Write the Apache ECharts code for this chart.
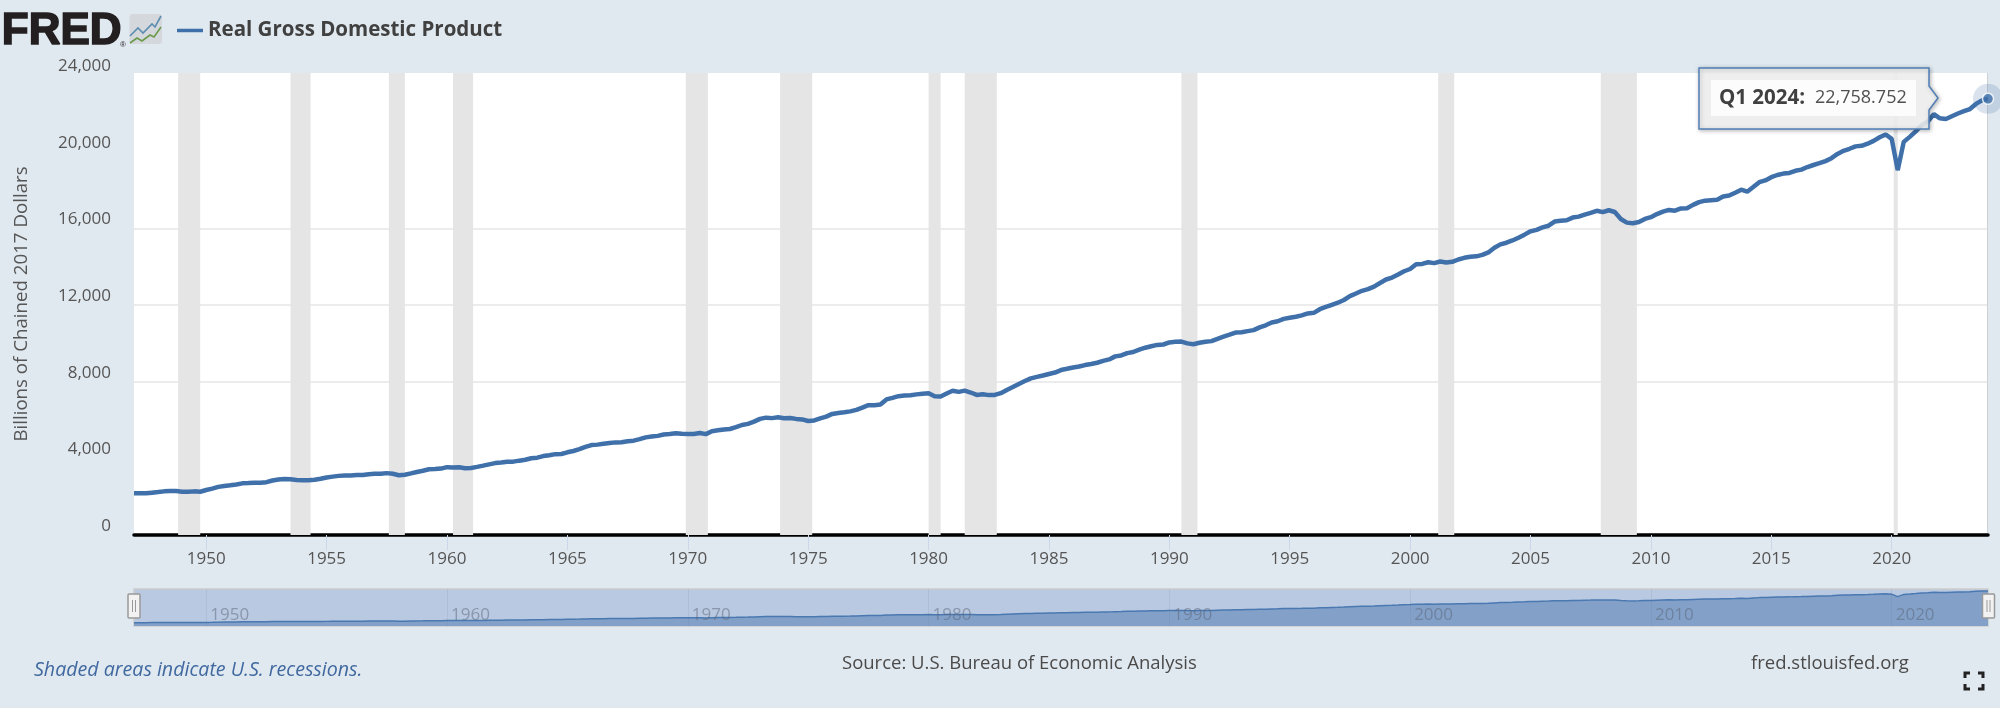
<!DOCTYPE html>
<html><head><meta charset="utf-8">
<style>html,body{margin:0;padding:0;background:#e1e9f0}#c{width:2000px;height:708px}</style>
<script src="https://cdn.jsdelivr.net/npm/echarts@6/dist/echarts.min.js"></script>
</head><body><div id="c"></div>
<script>
const firstYear = 1947;
const gdpValues = [
2182.7,2176.9,2172.4,2206.5, 2239.7,2276.7,2289.8,2292.4, 2260.8,2253.1,2276.3,2257.4,
2346.1,2417.7,2511.7,2559.2, 2594.0,2638.0,2693.8,2706.7, 2723.6,2731.1,2754.8,2843.9,
2896,2919,2906,2869, 2859,2856,2880,2936, 3000,3045,3085,3110,
3109,3129,3134,3170, 3191,3193,3228,3198, 3120,3141,3213,3289,
3352,3428,3438,3466, 3539,3517,3530,3488, 3500,3553,3618,3686,
3752,3786,3821,3828, 3879,3926,4006,4036, 4118,4163,4219,4228,
4314,4384,4478,4597, 4692,4715,4757,4795, 4832,4841,4888,4923,
5003,5094,5139,5172, 5242,5265,5306,5283, 5273,5272,5321,5264,
5414,5462,5508,5530, 5624,5739,5799,5915, 6058,6123,6098,6141,
6092,6103,6058,6031, 5946,5978,6086,6174, 6317,6366,6404,6451,
6527,6650,6772,6772, 6807,7073,7157,7243, 7275,7290,7337,7375,
7392,7239,7226,7379, 7522,7467,7532,7433, 7308,7348,7299,7307,
7400,7568,7720,7880, 8034,8173,8252,8320, 8400,8475,8605,8670,
8737,8790,8866,8923, 8986,9083,9162,9319, 9367,9490,9546,9673,
9771,9846,9919,9939, 10047,10083,10090,9998, 9952,10029,10080,10115,
10236,10347,10450,10559, 10577,10638,10689,10834, 10939,11087,11153,11276,
11337,11390,11460,11560, 11590,11780,11900,12010, 12120,12260,12460,12600,
12740,12830,12960,13150, 13330,13430,13590,13760,
13878,14130,14145,14230, 14184,14271,14215,14254, 14373,14461,14520,14537,
14614,14744,14989,15163, 15249,15367,15512,15671, 15844,15922,16048,16136,
16353,16396,16420,16561, 16611,16713,16809,16915, 16843,16943,16854,16485,
16298,16269,16326,16491, 16582,16743,16872,16960, 16920,17036,17049,17223,
17368,17445,17469,17490, 17662,17710,17860,18016, 17912,18156,18406,18500,
18667,18783,18857,18892, 19001,19063,19197,19304, 19398,19507,19661,19883,
20044,20150,20276,20305, 20416,20563,20750,20898, 20666,19034,20511,20771,
21058,21389,21571,21961, 21739,21708,21851,21990, 22112,22225,22491,22679,
22758.752
];
const recessionStart = ['1948-11','1953-07','1957-08','1960-04','1969-12','1973-11','1980-01','1981-07','1990-07','2001-03','2007-12','2020-02'];
const recessionEnd   = ['1949-10','1954-05','1958-04','1961-02','1970-11','1975-03','1980-07','1982-11','1991-03','2001-11','2009-06','2020-04'];
const yearTicks = [1950,1955,1960,1965,1970,1975,1980,1985,1990,1995,2000,2005,2010,2015,2020];
const navYearTicks = [1950,1960,1970,1980,1990,2000,2010,2020];
const yTickLabels = [0,4000,8000,12000,16000,20000,24000];
const yGridLines = [4000,8000,12000,16000,20000];
const yTop = 24104;
const seriesName = 'Real Gross Domestic Product';
const yAxisTitle = 'Billions of Chained 2017 Dollars';

const um = s => +s.slice(0,4) + (+s.slice(5,7)-1)/12;
const points = gdpValues.map((v,i)=>[firstYear+i/4,v]);
const last = points[points.length-1];
const FONT = '"Open Sans","Noto Sans",sans-serif';
const BLUE = '#3f70aa';
const fmtYear = v => String(v);

const chart = echarts.init(document.getElementById('c'),null,{renderer:'canvas'});
chart.setOption({
  animation:false, backgroundColor:'#e1e9f0',
  legend:{left:172,top:15,icon:'rect',itemWidth:26,itemHeight:3.5,itemGap:9,data:[seriesName],
    textStyle:{fontFamily:FONT,fontSize:20.5,fontWeight:700,color:'#404040'}},
  grid:[
    {left:134,top:73,width:1854,height:462,show:true,backgroundColor:'#fff',borderWidth:0},
    {left:134,top:589,width:1854,height:37,show:true,backgroundColor:'#b9c9e1',borderWidth:1.5,borderColor:'#cccccc'}
  ],
  xAxis:[
    {type:'value',gridIndex:0,min:firstYear,max:last[0],splitLine:{show:false},
     axisLine:{show:true,onZero:false,lineStyle:{color:'#000',width:3.5}},
     axisTick:{show:true,length:15,customValues:yearTicks,lineStyle:{color:'#ccd6eb',width:1}},
     axisLabel:{customValues:yearTicks,formatter:fmtYear,fontFamily:FONT,fontSize:17,color:'#555',margin:16}},
    {type:'value',gridIndex:1,min:firstYear,max:last[0],z:10,
     axisLine:{show:false},axisTick:{show:false,customValues:navYearTicks},
     splitLine:{show:true,lineStyle:{color:'rgba(90,100,120,0.1)',width:1}},
     axisLabel:{inside:true,customValues:navYearTicks,formatter:fmtYear,align:'left',fontFamily:FONT,fontSize:17,color:'rgba(90,100,120,0.5)',margin:2,padding:[0,0,0,4]}}
  ],
  yAxis:[
    {type:'value',gridIndex:0,min:0,max:yTop,
     name:yAxisTitle,nameLocation:'middle',nameGap:103,nameRotate:90,
     nameTextStyle:{fontFamily:FONT,fontSize:18.7,color:'#555'},
     axisLine:{show:false},axisTick:{show:false,customValues:yGridLines},
     splitLine:{show:true,showMinLine:false,showMaxLine:false,lineStyle:{color:'#e6e6e6',width:1.5}},
     axisLabel:{customValues:yTickLabels,verticalAlign:'bottom',margin:23,fontFamily:FONT,fontSize:17,color:'#555',lineHeight:18,
       formatter:v=>v.toLocaleString('en-US')}},
    {type:'value',gridIndex:1,min:0,max:24000,show:false}
  ],
  series:[
    {name:'Recessions',type:'line',xAxisIndex:0,yAxisIndex:0,data:[],z:1,silent:true,
     markArea:{silent:true,itemStyle:{color:'#e5e5e5'},
       data:recessionStart.map((s,i)=>[{xAxis:um(s)},{xAxis:um(recessionEnd[i])}])}},
    {name:seriesName,type:'line',xAxisIndex:0,yAxisIndex:0,data:points,showSymbol:false,z:3,
     clip:false,lineStyle:{color:BLUE,width:4.5},itemStyle:{color:BLUE}},
    {name:'halo',type:'scatter',xAxisIndex:0,yAxisIndex:0,data:[last],symbolSize:30,z:4,clip:false,silent:true,
     itemStyle:{color:'rgba(69,114,167,0.25)'}},
    {name:'current',type:'scatter',xAxisIndex:0,yAxisIndex:0,data:[last],symbolSize:11,z:5,clip:false,silent:true,
     itemStyle:{color:BLUE,borderColor:'#fff',borderWidth:1.5}},
    {name:'Navigator',type:'line',xAxisIndex:1,yAxisIndex:1,data:points,showSymbol:false,z:3,silent:true,
     lineStyle:{color:'#4a78b0',width:1.5},areaStyle:{color:'#83a1c8',opacity:1}}
  ],
  graphic:[
    {type:'text',left:1,top:9,z:100,style:{text:'FRED',font:'bold 44px "Liberation Sans"',fill:'#231f20',stroke:'#231f20',lineWidth:1.6}},
    {type:'text',left:120,top:41,z:100,style:{text:'®',font:'8px "Liberation Sans"',fill:'#231f20'}},
    {type:'rect',z:100,shape:{x:129.5,y:14,width:32.5,height:30,r:3},style:{fill:'#d4d8dc'}},
    {type:'polyline',z:101,shape:{points:[[130,36],[138,28],[143,33],[152,24],[155,27],[161,16]]},style:{stroke:'#5b8db0',lineWidth:1.6,fill:null}},
    {type:'polyline',z:101,shape:{points:[[130,43],[137,38],[142,41],[150,35],[154,37],[161,27]]},style:{stroke:'#6a9a4a',lineWidth:1.6,fill:null}},
    {type:'line',z:2,shape:{x1:1987.5,y1:73,x2:1987.5,y2:533},style:{stroke:'#d0d0d0',lineWidth:1}},
    {type:'polygon',z:100,shape:{points:[[1699,68],[1929,68],[1929,86],[1938,98],[1929,110],[1929,129],[1699,129]]},
     style:{fill:'rgba(247,247,247,0.85)',stroke:'#4f7fb5',lineWidth:1.5,shadowBlur:4,shadowOffsetX:1,shadowOffsetY:1,shadowColor:'rgba(0,0,0,0.3)'}},
    {type:'rect',z:101,shape:{x:1711,y:80,width:205,height:36},style:{fill:'#fcfcfc'}},
    {type:'text',z:102,x:1719,y:98,style:{text:'Q1 2024:',font:'bold 20.5px '+FONT,fill:'#404040',verticalAlign:'middle'}},
    {type:'text',z:102,x:1815,y:98,style:{text:'22,758.752',font:'18px '+FONT,fill:'#505050',verticalAlign:'middle'}},
    {type:'rect',z:100,shape:{x:128,y:594,width:12,height:24,r:1},style:{fill:'#f2f2f2',stroke:'#999',lineWidth:1.5}},
    {type:'line',z:101,shape:{x1:132.5,y1:600,x2:132.5,y2:612},style:{stroke:'#999',lineWidth:1}},
    {type:'line',z:101,shape:{x1:135.5,y1:600,x2:135.5,y2:612},style:{stroke:'#999',lineWidth:1}},
    {type:'rect',z:100,shape:{x:1982.5,y:594,width:12,height:24,r:1},style:{fill:'#f2f2f2',stroke:'#999',lineWidth:1.5}},
    {type:'line',z:101,shape:{x1:1987,y1:600,x2:1987,y2:612},style:{stroke:'#999',lineWidth:1}},
    {type:'line',z:101,shape:{x1:1990,y1:600,x2:1990,y2:612},style:{stroke:'#999',lineWidth:1}},
    {type:'text',left:34,top:660,style:{text:'Shaded areas indicate U.S. recessions.',font:'italic 19.6px '+FONT,fill:'#3f689f'}},
    {type:'text',left:842,top:654,style:{text:'Source: U.S. Bureau of Economic Analysis',font:'18.5px '+FONT,fill:'#4a4a4a'}},
    {type:'text',left:1751,top:654,style:{text:'fred.stlouisfed.org',font:'18.5px '+FONT,fill:'#4a4a4a'}},
    {type:'polyline',shape:{points:[[1965,678],[1965,673],[1970,673]]},style:{stroke:'#222',lineWidth:3,fill:null}},
    {type:'polyline',shape:{points:[[1978,673],[1983,673],[1983,678]]},style:{stroke:'#222',lineWidth:3,fill:null}},
    {type:'polyline',shape:{points:[[1965,684],[1965,689],[1970,689]]},style:{stroke:'#222',lineWidth:3,fill:null}},
    {type:'polyline',shape:{points:[[1978,689],[1983,689],[1983,684]]},style:{stroke:'#222',lineWidth:3,fill:null}}
  ]
});
</script></body></html>
